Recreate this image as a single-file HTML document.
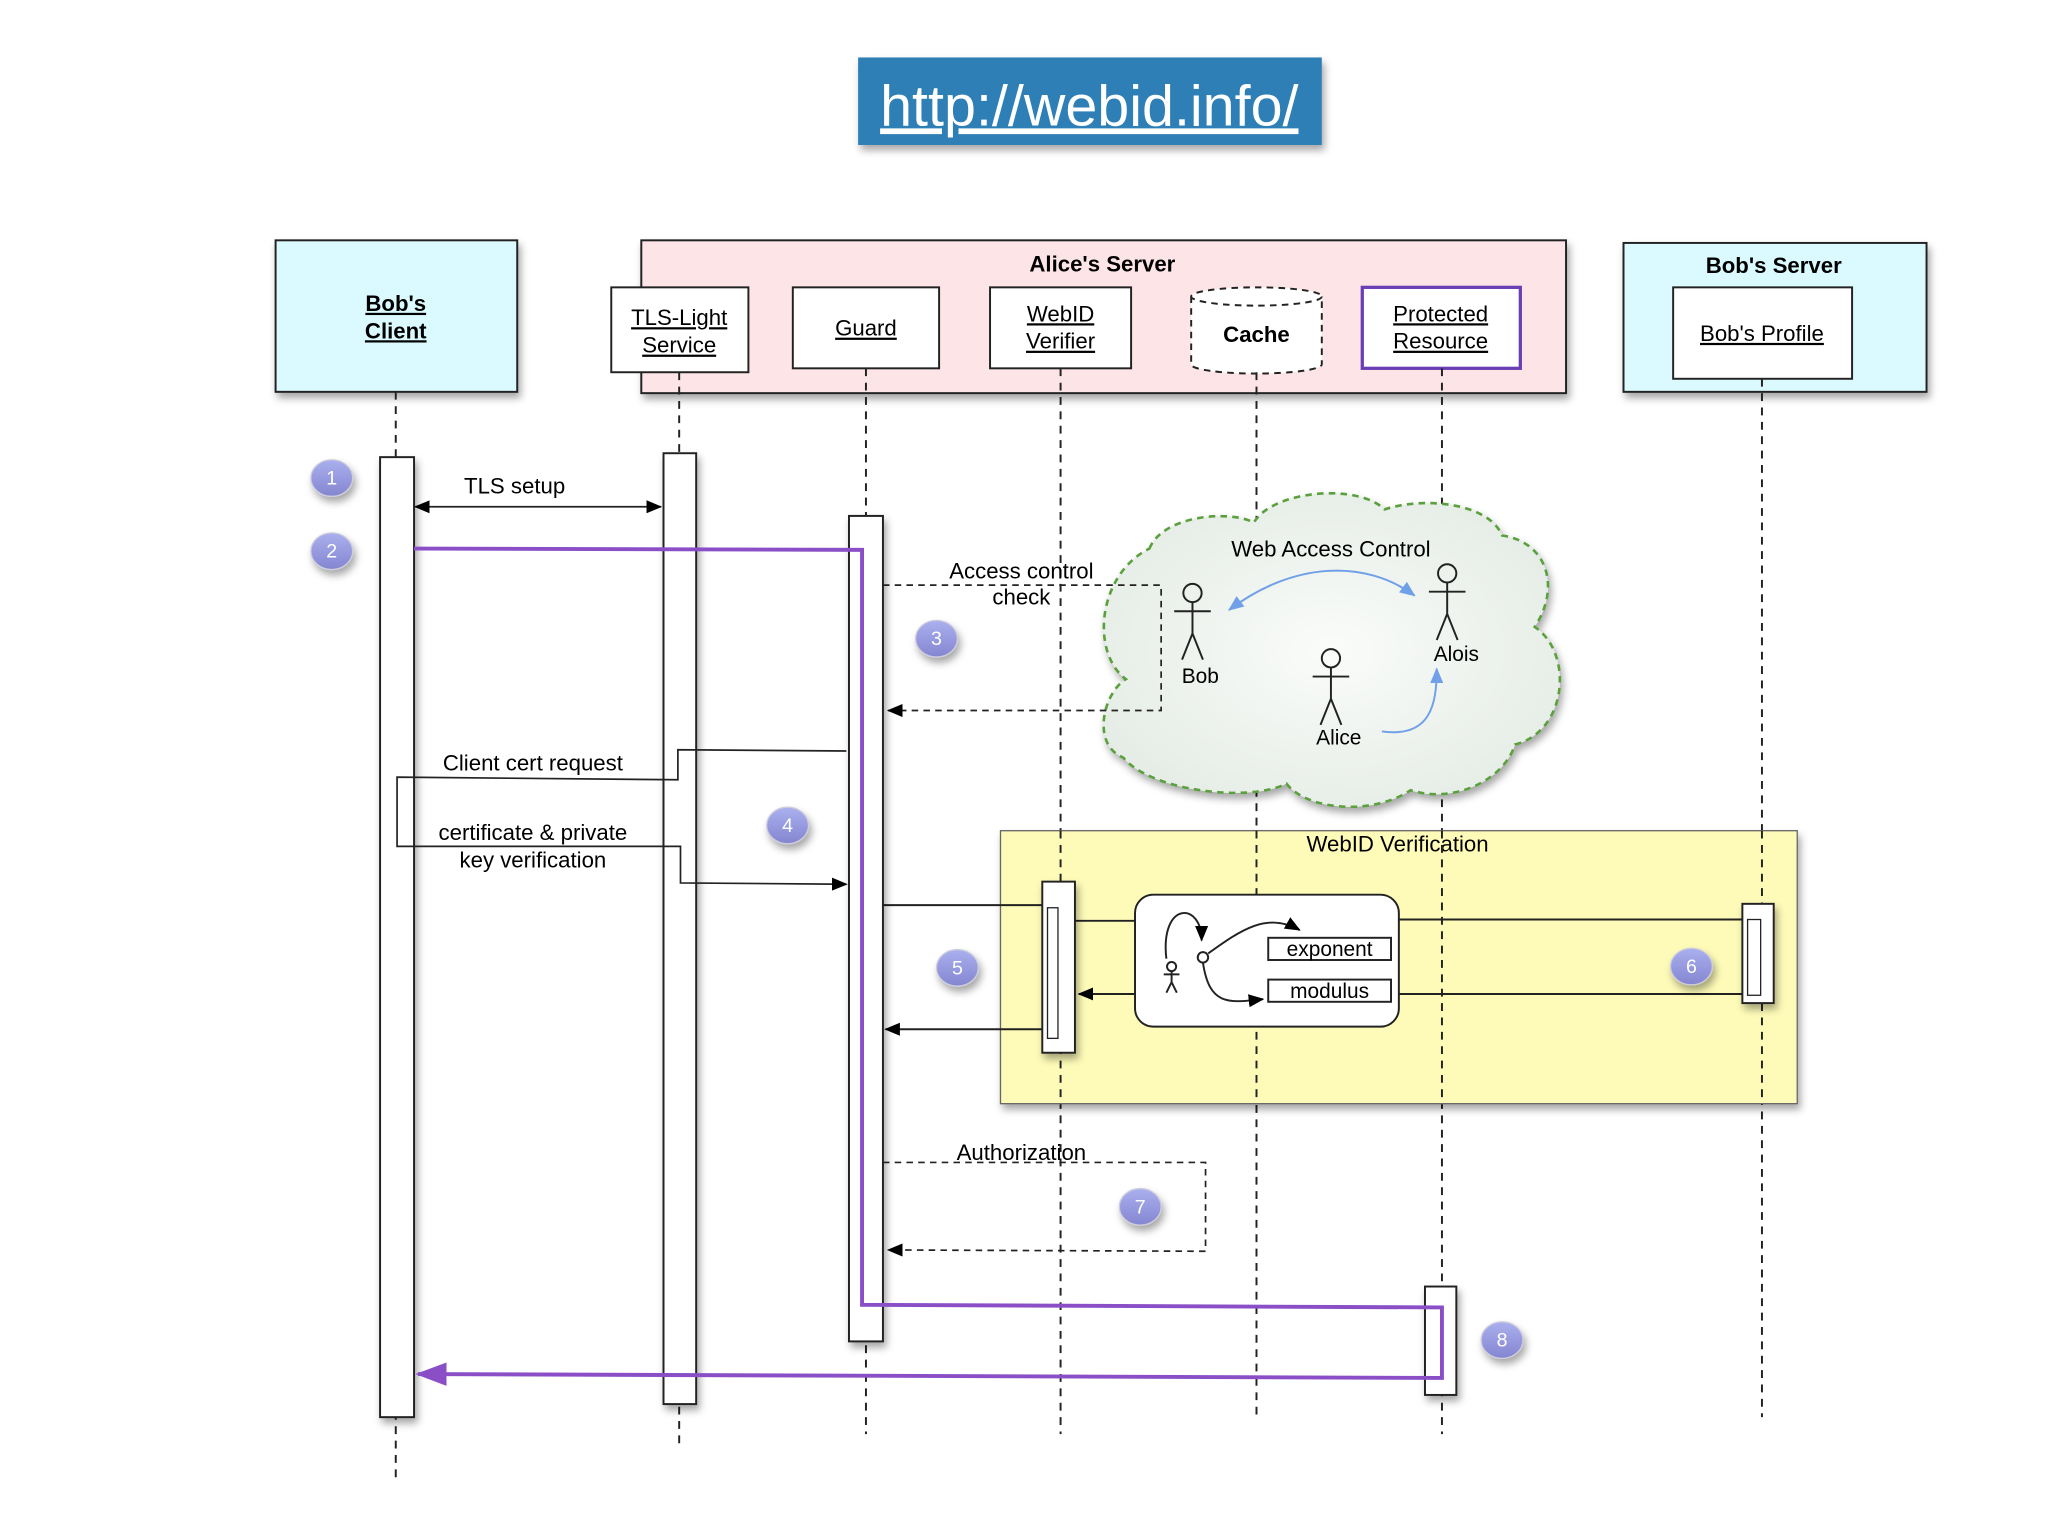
<!DOCTYPE html>
<html><head><meta charset="utf-8"><style>
html,body{margin:0;padding:0;background:#fff;}
svg{display:block;}
text{font-family:"Liberation Sans",sans-serif;}
</style></head><body>
<svg width="2048" height="1536" viewBox="0 0 1568 1176" xmlns="http://www.w3.org/2000/svg">
<defs>
<marker id="ah" markerWidth="12" markerHeight="10" refX="11" refY="5" orient="auto" markerUnits="userSpaceOnUse"><path d="M0,0 L12,5 L0,10 z" fill="#000"/></marker>
<marker id="ahp" markerWidth="24" markerHeight="18" refX="22" refY="9" orient="auto" markerUnits="userSpaceOnUse"><path d="M0,0 L24,9 L0,18 z" fill="#8a4fc7"/></marker>
<marker id="ahb" markerWidth="12" markerHeight="10" refX="11" refY="5" orient="auto" markerUnits="userSpaceOnUse"><path d="M0,0 L12,5 L0,10 z" fill="#6fa0e8"/></marker>
<marker id="ahbs" markerWidth="12" markerHeight="10" refX="1" refY="5" orient="auto" markerUnits="userSpaceOnUse"><path d="M12,0 L0,5 L12,10 z" fill="#6fa0e8"/></marker>
<filter id="sh" x="-10%" y="-10%" width="130%" height="130%"><feDropShadow dx="2" dy="4" stdDeviation="3" flood-color="#000" flood-opacity="0.35"/></filter>
<radialGradient id="cg" cx="50%" cy="50%" r="60%"><stop offset="0" stop-color="#fafcfa"/><stop offset="1" stop-color="#e4ebe4"/></radialGradient>
<linearGradient id="cb" x1="0" y1="0" x2="0" y2="1"><stop offset="0" stop-color="#aab0ee"/><stop offset="1" stop-color="#8485d0"/></linearGradient>
</defs>

<rect x="657" y="44" width="355" height="67" fill="#2f7fb6" filter="url(#sh)"/>
<text x="834" y="96" font-size="44" fill="#fff" text-anchor="middle" text-decoration="underline">http://webid.info/</text>

<rect x="211" y="184" width="185" height="116" fill="#dafaff" stroke="#222" stroke-width="1.5" filter="url(#sh)"/>
<text x="303" y="238" font-size="17" font-weight="bold" text-anchor="middle" text-decoration="underline">Bob's</text>
<text x="303" y="259" font-size="17" font-weight="bold" text-anchor="middle" text-decoration="underline">Client</text>

<rect x="491" y="184" width="708" height="117" fill="#fde5e7" stroke="#222" stroke-width="1.5" filter="url(#sh)"/>
<text x="844" y="208" font-size="17" font-weight="bold" text-anchor="middle">Alice's Server</text>
<rect x="468" y="220" width="105" height="65" fill="#fff" stroke="#222" stroke-width="1.5"/>
<text x="520" y="249" font-size="17" text-anchor="middle" text-decoration="underline">TLS-Light</text>
<text x="520" y="270" font-size="17" text-anchor="middle" text-decoration="underline">Service</text>
<rect x="607" y="220" width="112" height="62" fill="#fff" stroke="#222" stroke-width="1.5"/>
<text x="663" y="257" font-size="17" text-anchor="middle" text-decoration="underline">Guard</text>
<rect x="758" y="220" width="108" height="62" fill="#fff" stroke="#222" stroke-width="1.5"/>
<text x="812" y="246" font-size="17" text-anchor="middle" text-decoration="underline">WebID</text>
<text x="812" y="267" font-size="17" text-anchor="middle" text-decoration="underline">Verifier</text>
<path d="M912,227 L912,279 A50,7 0 0 0 1012,279 L1012,227" fill="#fff" stroke="#222" stroke-width="1.5" stroke-dasharray="5,4"/>
<ellipse cx="962" cy="227" rx="50" ry="7" fill="#fff" stroke="#222" stroke-width="1.5" stroke-dasharray="5,4"/>
<text x="962" y="262" font-size="17" font-weight="bold" text-anchor="middle">Cache</text>
<rect x="1043" y="220" width="121" height="62" fill="#fff" stroke="#6a3fb5" stroke-width="2.5"/>
<text x="1103" y="246" font-size="17" text-anchor="middle" text-decoration="underline">Protected</text>
<text x="1103" y="267" font-size="17" text-anchor="middle" text-decoration="underline">Resource</text>

<rect x="1243" y="186" width="232" height="114" fill="#dafaff" stroke="#222" stroke-width="1.5" filter="url(#sh)"/>
<text x="1358" y="209" font-size="17" font-weight="bold" text-anchor="middle">Bob's Server</text>
<rect x="1281" y="220" width="137" height="70" fill="#fff" stroke="#222" stroke-width="1.5"/>
<text x="1349" y="261" font-size="17" text-anchor="middle" text-decoration="underline">Bob's Profile</text>

<g stroke="#222" stroke-width="1.5" stroke-dasharray="6,5" fill="none">
<line x1="303" y1="300" x2="303" y2="1135"/>
<line x1="520" y1="285" x2="520" y2="1105"/>
<line x1="663" y1="282" x2="663" y2="1098"/>
<line x1="812" y1="282" x2="812" y2="1098"/>
<line x1="962" y1="285" x2="962" y2="1083"/>
<line x1="1104" y1="282" x2="1104" y2="1098"/>
<line x1="1349" y1="290" x2="1349" y2="1085"/>
</g>

<path d="M880,420 C890,395 940,390 960,400 C975,375 1040,370 1060,390 C1090,380 1140,385 1150,410 C1185,415 1195,450 1175,480 C1205,500 1200,560 1160,570 C1150,600 1110,615 1080,605 C1050,625 1000,620 985,600 C955,615 880,605 860,580 C835,570 845,530 862,520 C835,500 840,440 880,420 Z" fill="url(#cg)" stroke="#5aa03c" stroke-width="2" stroke-dasharray="5,4" filter="url(#sh)"/>
<text x="1019" y="426" font-size="17" text-anchor="middle">Web Access Control</text>
<g stroke="#222" stroke-width="1.5" fill="none">
<circle cx="913" cy="454" r="7"/><line x1="913" y1="461" x2="913" y2="485"/><line x1="899" y1="468" x2="927" y2="468"/><line x1="913" y1="485" x2="905" y2="505"/><line x1="913" y1="485" x2="921" y2="505"/>
<circle cx="1108" cy="439" r="7"/><line x1="1108" y1="446" x2="1108" y2="470"/><line x1="1094" y1="453" x2="1122" y2="453"/><line x1="1108" y1="470" x2="1100" y2="490"/><line x1="1108" y1="470" x2="1116" y2="490"/>
<circle cx="1019" cy="504" r="7"/><line x1="1019" y1="511" x2="1019" y2="535"/><line x1="1005" y1="518" x2="1033" y2="518"/><line x1="1019" y1="535" x2="1011" y2="555"/><line x1="1019" y1="535" x2="1027" y2="555"/>
</g>
<text x="919" y="523" font-size="16" text-anchor="middle">Bob</text>
<text x="1115" y="506" font-size="16" text-anchor="middle">Alois</text>
<text x="1025" y="570" font-size="16" text-anchor="middle">Alice</text>
<path d="M941,467 C990,430 1045,428 1083,456" fill="none" stroke="#6fa0e8" stroke-width="1.5" marker-start="url(#ahbs)" marker-end="url(#ahb)"/>
<path d="M1058,560 C1095,565 1100,540 1100,512" fill="none" stroke="#6fa0e8" stroke-width="1.5" marker-end="url(#ahb)"/>

<rect x="766" y="636" width="610" height="209" fill="#fefbb8" stroke="#666" stroke-width="1" filter="url(#sh)"/>
<text x="1070" y="652" font-size="17" text-anchor="middle">WebID Verification</text>
<g stroke="#222" stroke-width="1.5" stroke-dasharray="6,5">
<line x1="812" y1="636" x2="812" y2="845"/><line x1="962" y1="636" x2="962" y2="845"/><line x1="1104" y1="636" x2="1104" y2="845"/><line x1="1349" y1="636" x2="1349" y2="845"/>
</g>
<rect x="869" y="685" width="202" height="101" rx="14" fill="#fff" stroke="#222" stroke-width="1.5"/>
<rect x="971" y="718" width="94" height="17" fill="#fff" stroke="#222" stroke-width="1.5"/>
<text x="1018" y="732" font-size="16" text-anchor="middle">exponent</text>
<rect x="971" y="750" width="94" height="17" fill="#fff" stroke="#222" stroke-width="1.5"/>
<text x="1018" y="764" font-size="16" text-anchor="middle">modulus</text>
<g stroke="#222" stroke-width="1.5" fill="none">
<circle cx="897" cy="740" r="3.5"/><line x1="897" y1="743" x2="897" y2="752"/><line x1="891" y1="746" x2="903" y2="746"/><line x1="897" y1="752" x2="893" y2="760"/><line x1="897" y1="752" x2="901" y2="760"/>
<path d="M893,734 C888,690 920,690 920,720" marker-end="url(#ah)"/>
<circle cx="921" cy="733" r="4"/>
<path d="M925,730 C950,712 970,698 995,712" marker-end="url(#ah)"/>
<path d="M921,737 C926,770 940,768 967,765" marker-end="url(#ah)"/>
<line x1="823" y1="705" x2="869" y2="705"/>
<line x1="869" y1="761" x2="826" y2="761" marker-end="url(#ah)"/>
<line x1="1071" y1="704" x2="1334" y2="704"/>
<line x1="1071" y1="761" x2="1334" y2="761"/>
<line x1="676" y1="693" x2="812" y2="693"/>
<line x1="812" y1="788" x2="678" y2="788" marker-end="url(#ah)"/>
</g>

<g fill="#fff" stroke="#222" stroke-width="1.5" filter="url(#sh)">
<rect x="291" y="350" width="26" height="735"/>
<rect x="508" y="347" width="25" height="728"/>
<rect x="650" y="395" width="26" height="632"/>
<rect x="798" y="675" width="25" height="131"/>
<rect x="1334" y="692" width="24" height="76"/>
<rect x="1091" y="985" width="24" height="83"/>
</g>
<rect x="802" y="695" width="8" height="100" fill="none" stroke="#222" stroke-width="1"/>
<rect x="1338" y="704" width="10" height="58" fill="none" stroke="#222" stroke-width="1"/>

<g stroke="#222" stroke-width="1.3" fill="none">
<line x1="330" y1="388" x2="506" y2="388" marker-end="url(#ah)"/>
<line x1="330" y1="388" x2="318" y2="388" marker-end="url(#ah)"/>
<polyline points="676,448 889,448 889,544 680,544" stroke-dasharray="5,4" marker-end="url(#ah)"/>
<polyline points="648,575 519,574 519,597 304,595 304,648 521,648 521,676 648,677" marker-end="url(#ah)"/>
<polyline points="676,890 923,890 923,958 680,957" stroke-dasharray="5,4" marker-end="url(#ah)"/>
</g>
<text x="394" y="378" font-size="17" text-anchor="middle">TLS setup</text>
<text x="782" y="443" font-size="17" text-anchor="middle">Access control</text>
<text x="782" y="463" font-size="17" text-anchor="middle">check</text>
<text x="408" y="590" font-size="17" text-anchor="middle">Client cert request</text>
<text x="408" y="643" font-size="17" text-anchor="middle">certificate &amp; private</text>
<text x="408" y="664" font-size="17" text-anchor="middle">key verification</text>
<text x="782" y="888" font-size="17" text-anchor="middle">Authorization</text>

<polyline points="317,420 660,421 660,999 1104,1001 1104,1055 320,1052" fill="none" stroke="#8a4fc7" stroke-width="3" marker-end="url(#ahp)"/>

<g filter="url(#sh)">
<ellipse cx="254" cy="366" rx="16" ry="14" fill="url(#cb)" stroke="#ccd" stroke-width="1"/>
<ellipse cx="254" cy="422" rx="16" ry="14" fill="url(#cb)" stroke="#ccd" stroke-width="1"/>
<ellipse cx="717" cy="489" rx="16" ry="14" fill="url(#cb)" stroke="#ccd" stroke-width="1"/>
<ellipse cx="603" cy="632" rx="16" ry="14" fill="url(#cb)" stroke="#ccd" stroke-width="1"/>
<ellipse cx="733" cy="741" rx="16" ry="14" fill="url(#cb)" stroke="#ccd" stroke-width="1"/>
<ellipse cx="1295" cy="740" rx="16" ry="14" fill="url(#cb)" stroke="#ccd" stroke-width="1"/>
<ellipse cx="873" cy="924" rx="16" ry="14" fill="url(#cb)" stroke="#ccd" stroke-width="1"/>
<ellipse cx="1150" cy="1026" rx="16" ry="14" fill="url(#cb)" stroke="#ccd" stroke-width="1"/>
</g>
<g font-size="15" fill="#fff" text-anchor="middle">
<text x="254" y="371">1</text><text x="254" y="427">2</text><text x="717" y="494">3</text><text x="603" y="637">4</text>
<text x="733" y="746">5</text><text x="1295" y="745">6</text><text x="873" y="929">7</text><text x="1150" y="1031">8</text>
</g>
</svg>
</body></html>
